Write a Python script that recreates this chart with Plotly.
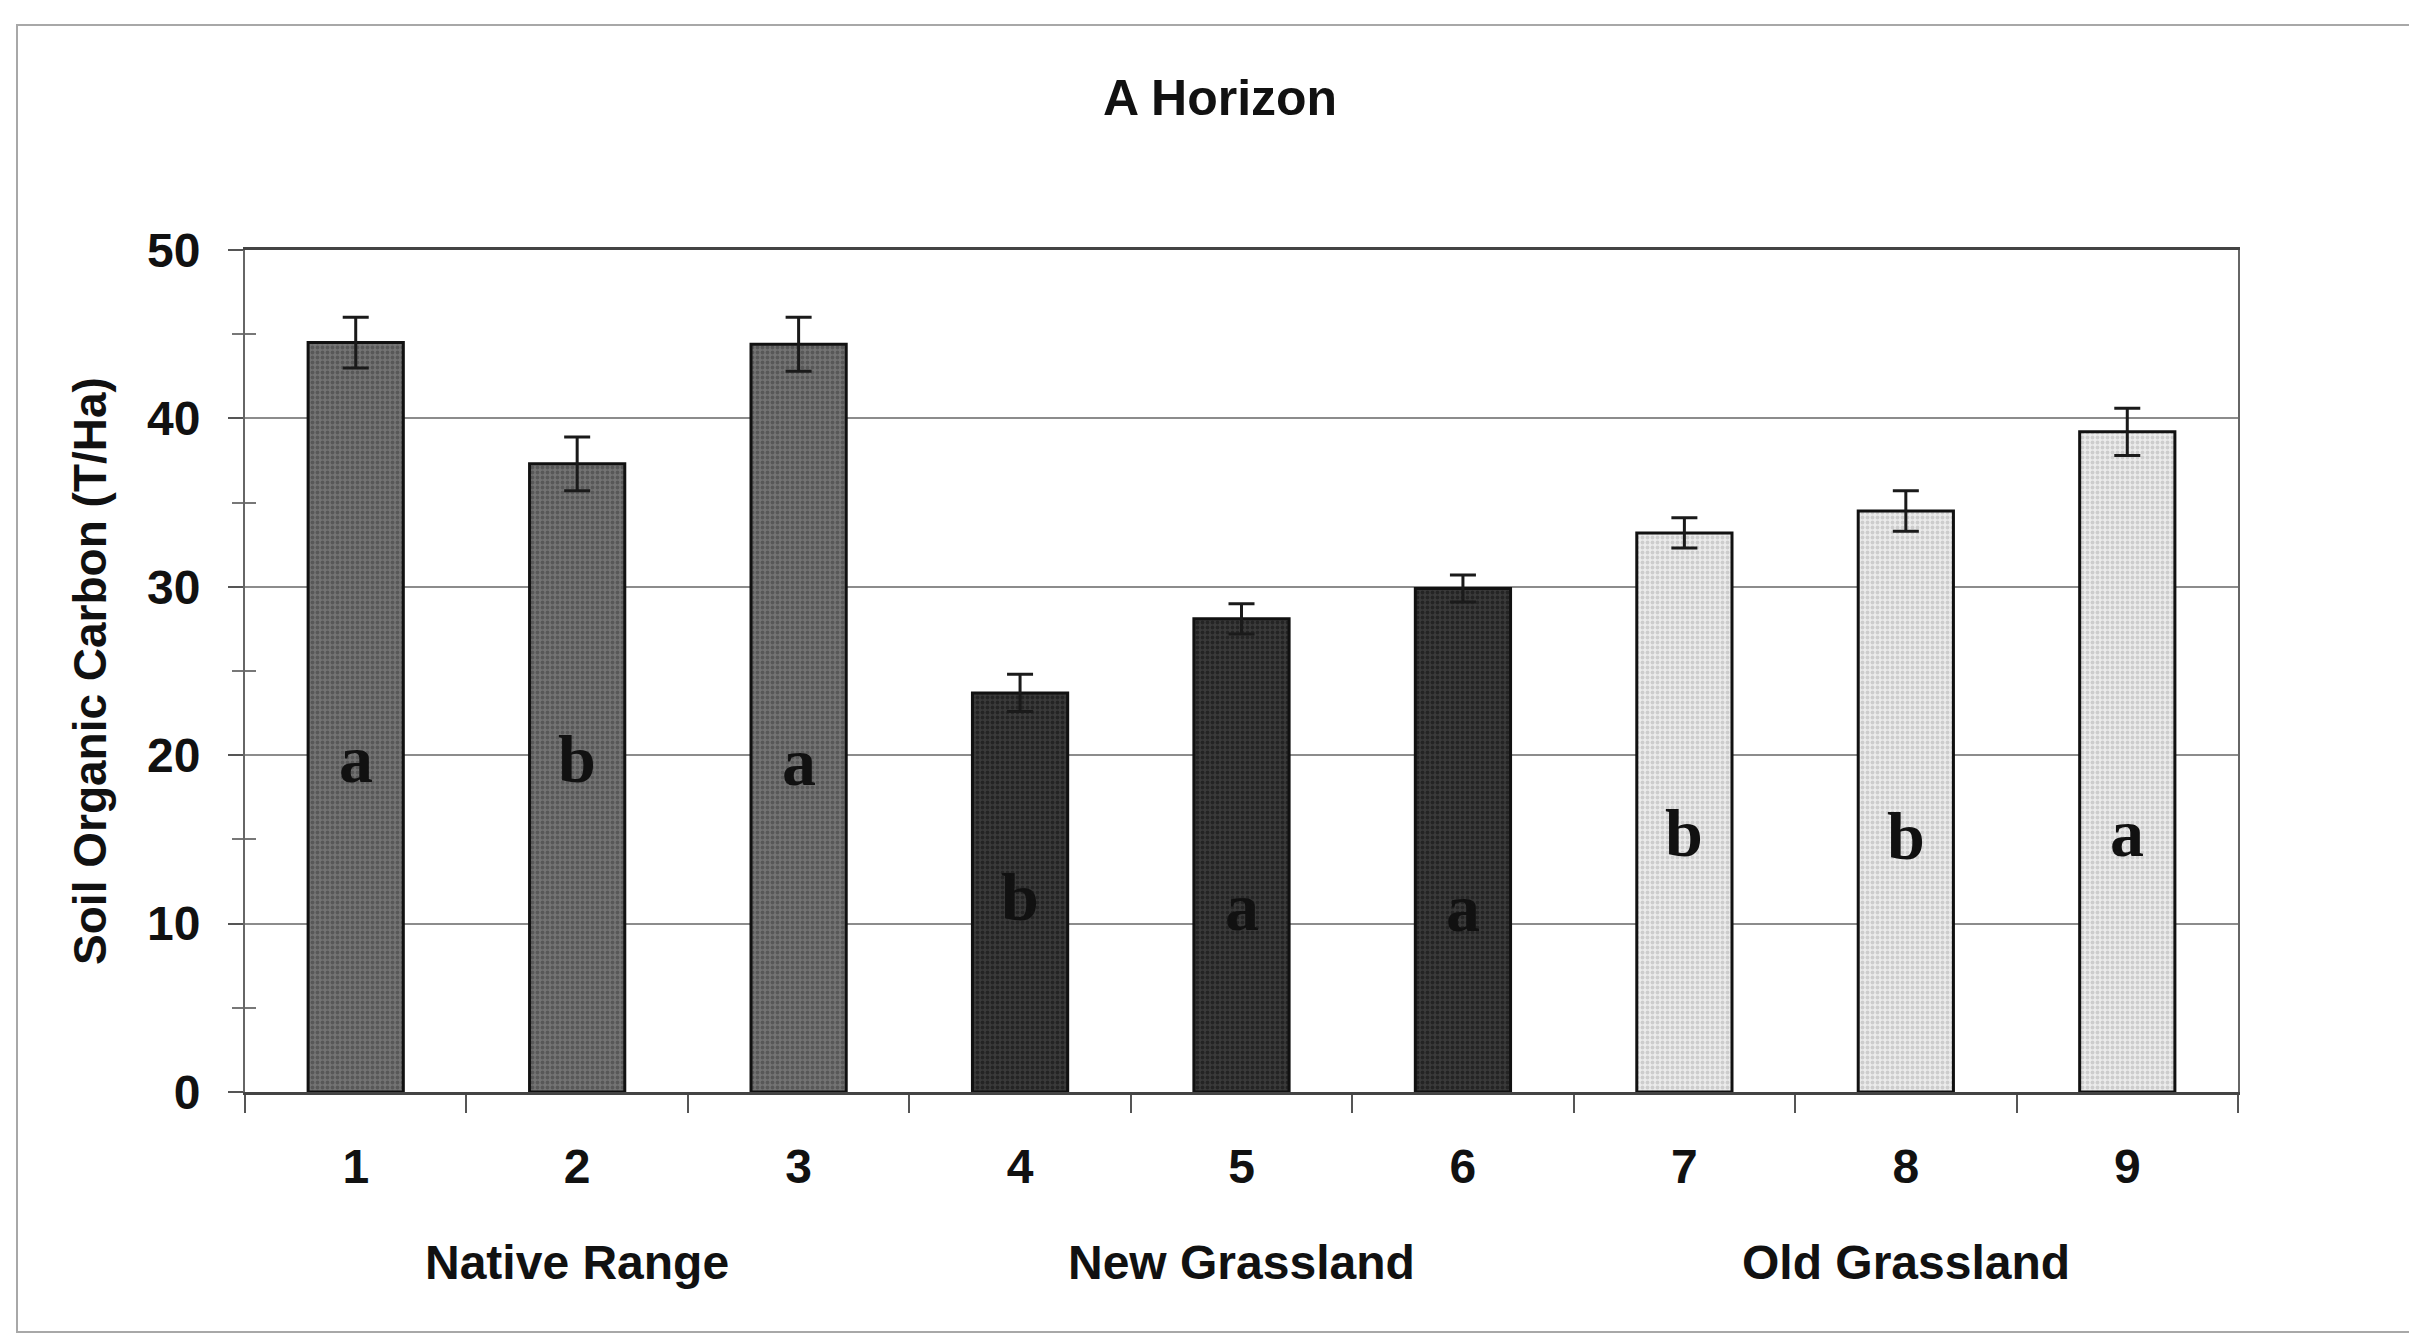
import plotly.graph_objects as go

# ---- data -------------------------------------------------------------
sites = ["1", "2", "3", "4", "5", "6", "7", "8", "9"]
groups = ["Native Range", "New Grassland", "Old Grassland"]
group_sites = [["1", "2", "3"], ["4", "5", "6"], ["7", "8", "9"]]
soc = [44.5, 37.3, 44.4, 23.7, 28.1, 29.9, 33.2, 34.5, 39.2]       # T/Ha
soc_se = [1.5, 1.6, 1.6, 1.1, 0.9, 0.8, 0.9, 1.2, 1.4]
letters = ["a", "b", "a", "b", "a", "a", "b", "b", "a"]
letter_y = [19.8, 19.8, 19.6, 11.6, 11.0, 10.9, 15.4, 15.2, 15.4]

# ---- styling ----------------------------------------------------------
W, H = 2409, 1344
L, R, T, B = 245, 2238, 250, 1092          # plot area in pixels
SANS = "Arial, 'Liberation Sans', sans-serif"
SERIF = "'Times New Roman', 'Liberation Serif', serif"
fills = [("#747474", "#585858"), ("#3a3a3a", "#242424"), ("#ececec", "#cdcdcd")]


def px_x(p):
    return (p - L) / (R - L)


def px_y(p):
    return (B - p) / (B - T)


fig = go.Figure()

for gi, name in enumerate(groups):
    idx = [sites.index(s) for s in group_sites[gi]]
    bg, fg = fills[gi]
    fig.add_trace(go.Bar(
        x=group_sites[gi],
        y=[soc[i] for i in idx],
        name=name,
        width=0.43,
        marker=dict(
            color=bg,
            line=dict(color="#111111", width=3),
            pattern=dict(shape=".", fgcolor=fg, bgcolor=bg, size=5,
                         solidity=0.45, fillmode="replace"),
        ),
        error_y=dict(type="data", array=[soc_se[i] for i in idx],
                     color="#1a1a1a", thickness=3, width=13),
        showlegend=False,
        hoverinfo="skip",
    ))

# invisible trace that carries the crossing minor tick axis
fig.add_trace(go.Scatter(x=[sites[0]], y=[0], yaxis="y2", mode="markers",
                         marker=dict(opacity=0), showlegend=False,
                         hoverinfo="skip"))

# significance letters inside bars (category index positions)
for i, (lt, ly) in enumerate(zip(letters, letter_y)):
    fig.add_annotation(x=i, y=ly, text=f"<b>{lt}</b>", showarrow=False,
                       font=dict(family=SERIF, size=68, color="#111111"),
                       xanchor="center", yanchor="middle")

# group labels under the site numbers
for name, gs in zip(groups, group_sites):
    fig.add_annotation(x=sites.index(gs[1]), y=px_y(1262), xref="x",
                       yref="paper", text=f"<b>{name}</b>", showarrow=False,
                       font=dict(family=SANS, size=48, color="#111111"),
                       xanchor="center", yanchor="middle")

# outer chart border
fig.add_shape(type="rect", xref="paper", yref="paper",
              x0=px_x(17), x1=px_x(2440), y0=px_y(1332), y1=px_y(25),
              line=dict(color="#a8a8a8", width=2), layer="below")

fig.update_layout(
    width=W, height=H,
    margin=dict(l=L, r=W - R, t=T, b=H - B),
    paper_bgcolor="white", plot_bgcolor="white",
    barmode="overlay",
    title=dict(text="<b>A Horizon</b>", x=1220 / W, xref="container",
               xanchor="center", y=1 - 97 / H, yref="container",
               yanchor="middle",
               font=dict(family=SANS, size=50, color="#111111")),
    xaxis=dict(
        type="category", categoryorder="array", categoryarray=sites,
        range=[-0.5, 8.5],
        tickson="boundaries", ticks="outside", ticklen=18,
        tickcolor="#555555", tickwidth=2,
        ticklabelstandoff=30,
        tickfont=dict(family=SANS, size=48, color="#111111"),
        tickprefix="<b>", ticksuffix="</b>",
        showline=True, linecolor="#444444", linewidth=3, mirror=True,
        showgrid=False, zeroline=False,
    ),
    yaxis=dict(
        range=[0, 50], dtick=10, tick0=0,
        ticks="outside", ticklen=15, tickcolor="#555555", tickwidth=2,
        ticklabelstandoff=18,
        tickfont=dict(family=SANS, size=48, color="#111111"),
        tickprefix="<b>", ticksuffix="</b>",
        showline=True, linecolor="#666666", linewidth=2, mirror=True,
        showgrid=True, gridcolor="#8c8c8c", gridwidth=2,
        zeroline=False,
        title=dict(text="<b>Soil Organic Carbon (T/Ha)</b>", standoff=26,
                   font=dict(family=SANS, size=46, color="#111111")),
        minor=dict(ticks="outside", tickvals=[5, 15, 25, 35, 45],
                   ticklen=11, tickcolor="#777777", tickwidth=2,
                   showgrid=False),
    ),
    yaxis2=dict(
        overlaying="y", side="left", anchor="x", range=[0, 50],
        tickvals=[5, 15, 25, 35, 45], ticks="inside", ticklen=11,
        tickcolor="#777777", tickwidth=2, showticklabels=False,
        showgrid=False, showline=False, zeroline=False,
    ),
)

fig.write_html("out.html")
